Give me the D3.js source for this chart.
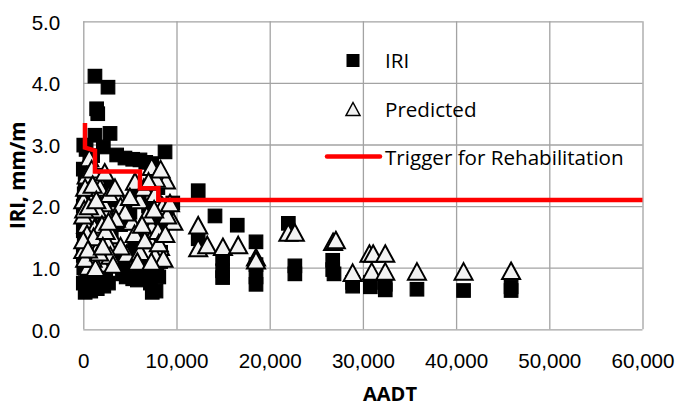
<!DOCTYPE html>
<html>
<head>
<meta charset="utf-8">
<script src="https://cdn.jsdelivr.net/npm/d3@7"></script>
<style>
    body { margin: 0; background: #fff; }
    svg { font-family: "Open Sans", sans-serif; }
    .grid line { stroke: #a3a3a3; stroke-width: 1.3; }
    .grid .domain { display: none; }
    .grid text { font-size: 20.6px; fill: #000; }
</style>
</head>
<body>
<div id="chart"></div>
<script>
// IRI measured (black squares)
var iriAadt = [
    1250, 2650, 1430, 1550, 1250, 2870, 50, 2150, 300, 3580, 4470, 6080, 5300, 8770, 7340, 6700, 1000, 700,
    0, 200, 100, 0, 150, 0, 100, 0, 50, 1800, 2500, 3300, 2000, 4000, 3000, 5000, 6000, 7000, 8000, 7600,
    8500, 9000, 9600, 6500, 5500, 8300, 4300, 2600, 1200,
    200, 800, 1500, 2200, 2700, 400, 1800, 1100, 2400, 4200, 4600, 5300, 5800, 6000, 7400, 7800, 7200,
    8100, 7500, 7900, 8300, 6800, 0, 600, 1300,
    12330, 12330, 14130, 16520, 18530, 14950, 14950, 14950, 18530, 18530, 18530, 22000, 22700, 22700,
    26760, 26760, 26900, 28900, 28900, 30800, 30800, 32400, 32400, 35800, 40800, 45900, 45900
];
var iriValues = [
    4.11, 3.93, 3.58, 3.50, 3.15, 3.18, 2.99, 2.96, 2.92, 2.83, 2.78, 2.75, 2.76, 2.88, 2.69, 2.71, 2.82, 2.70,
    2.60, 2.40, 2.20, 2.00, 1.80, 1.60, 1.40, 1.20, 1.00, 2.50, 2.30, 2.10, 1.90, 1.70, 1.50, 1.90, 2.20, 2.00, 2.30, 1.80,
    1.60, 1.90, 2.05, 1.50, 1.30, 1.25, 1.10, 1.20, 1.30,
    0.60, 0.62, 0.66, 0.70, 0.75, 0.80, 0.85, 0.95, 0.90, 0.90, 0.85, 0.82, 0.80, 0.95, 0.60, 0.62, 0.75,
    0.85, 0.95, 1.05, 1.10, 1.00, 0.75, 0.90, 0.75,
    2.25, 1.47, 1.84, 1.69, 1.42, 1.15, 0.95, 0.84, 1.05, 0.85, 0.73, 1.72, 1.03, 0.90,
    1.12, 0.97, 0.90, 0.76, 0.70, 0.76, 0.69, 0.73, 0.64, 0.65, 0.63, 0.69, 0.63
];

// predicted IRI (triangles)
var predAadt = [
    640, 360, 1430, 7340, 8870, 5550, 3580, 0, 1250, 720, 2510, 5190, 7340, 9660, 720, 3050, 7160, 8230,
    540, 1970, 4660, 6080, 0, 1610, 200, 900, 1800, 2200, 2800, 4000, 4500, 6000, 6500, 7700, 8500, 9000,
    1500, 300, 1200, 2000, 3500, 6800, 8000, 400, 2600, 4000, 5500, 6600, 7700, 8600, 1000, 2900, 200,
    1300, 3200, 5800, 7300, 0, 1000, 2300, 7800, 8300,
    100, 600, 1100, 1700, 2400, 0, 500, 1400, 2100, 2700, 3400, 5000, 6300, 7000, 7600, 8100, 8800, 9300,
    12330, 12330, 13300, 14980, 16620, 18530, 18530, 22000, 22700, 26800, 27100, 28900, 30700, 31100,
    32400, 30950, 32400, 35800, 40800, 45900
];
var predValues = [
    2.78, 2.50, 2.48, 2.64, 2.42, 2.40, 2.21, 2.10, 2.18, 1.83, 1.88, 1.75, 1.67, 1.75, 1.45, 1.53, 1.45, 1.34,
    1.02, 1.07, 1.23, 1.26, 1.29, 1.34, 2.30, 2.60, 2.30, 2.05, 2.20, 2.00, 1.90, 2.10, 2.30, 2.20, 2.00, 1.85,
    1.95, 1.70, 1.65, 1.70, 1.80, 1.85, 1.60, 1.55, 1.40, 1.35, 1.55, 1.45, 1.20, 1.15, 1.15, 1.20, 1.15,
    1.00, 1.05, 1.10, 1.10, 1.85, 2.35, 2.55, 2.45, 2.60,
    1.95, 2.00, 1.50, 1.25, 1.60, 1.45, 1.30, 2.10, 1.35, 1.75, 2.30, 2.15, 1.70, 2.40, 1.95, 1.40, 1.55, 2.05,
    1.69, 1.32, 1.37, 1.34, 1.37, 1.17, 1.12, 1.57, 1.57, 1.42, 1.45, 0.92, 1.23, 1.23,
    1.23, 0.94, 0.94, 0.94, 0.94, 0.95
];

// rehabilitation trigger (step line)
var triggerAadt = [180, 180, 1250, 1250, 6080, 6080, 8050, 8050, 60000];
var triggerValues = [3.35, 2.95, 2.90, 2.56, 2.56, 2.29, 2.29, 2.10, 2.10];

var xTicks = [0, 10000, 20000, 30000, 40000, 50000, 60000];
var yTicks = [0, 1, 2, 3, 4, 5];

function drawChart() {
    var width = 678,
        height = 406,
        left = 83.3,
        right = 642.5,
        top = 21.3,
        bottom = 329.3;

    var svg = d3.select("#chart")
                .append("svg")
                .attr("width", width)
                .attr("height", height);

    var x = d3.scaleLinear().domain([0, 60000]).range([left, right]);
    var y = d3.scaleLinear().domain([0, 5]).range([bottom, top]);

    // gridlines + tick labels
    svg.append("g")
        .attr("class", "grid")
        .attr("transform", "translate(0," + bottom + ")")
        .call(d3.axisBottom(x)
            .tickValues(xTicks)
            .tickSize(-(bottom - top))
            .tickPadding(24)
            .tickFormat(d3.format(",")));

    svg.append("g")
        .attr("class", "grid")
        .attr("transform", "translate(" + left + ",0)")
        .call(d3.axisLeft(y)
            .tickValues(yTicks)
            .tickSize(-(right - left))
            .tickPadding(23)
            .tickFormat(d3.format(".1f")))
        .selectAll("text")
        .attr("dy", "0.38em");

    // IRI squares
    var sq = 13.5;
    svg.append("g")
        .selectAll("rect")
        .data(iriAadt)
        .enter()
        .append("rect")
        .attr("x", function(d) { return x(d) - sq / 2; })
        .attr("y", function(d, i) { return y(iriValues[i]) - sq / 2; })
        .attr("width", sq)
        .attr("height", sq)
        .attr("fill", "#000")
        .attr("stroke", "#000")
        .attr("stroke-width", 1.2);

    // predicted triangles
    var tw = 18, th = 16.5;
    var triPath = "M0," + (-th / 2) + "L" + (tw / 2) + "," + (th / 2) + "L" + (-tw / 2) + "," + (th / 2) + "Z";
    svg.append("g")
        .selectAll("path")
        .data(predAadt)
        .enter()
        .append("path")
        .attr("d", triPath)
        .attr("transform", function(d, i) {
            return "translate(" + x(d) + "," + y(predValues[i]) + ")";
        })
        .attr("fill", "#f2f2f2")
        .attr("stroke", "#000")
        .attr("stroke-width", 2)
        .attr("stroke-linejoin", "miter");

    // trigger line
    var line = d3.line()
        .x(function(d) { return x(d); })
        .y(function(d, i) { return y(triggerValues[i]); });

    svg.append("path")
        .datum(triggerAadt)
        .attr("d", line)
        .attr("fill", "none")
        .attr("stroke", "#ff0000")
        .attr("stroke-width", 4.5);

    // legend
    var legend = svg.append("g").attr("font-size", "20.6px");

    legend.append("rect")
        .attr("x", 346.5).attr("y", 54)
        .attr("width", 13).attr("height", 13)
        .attr("fill", "#000");
    legend.append("text").attr("x", 385).attr("y", 68).text("IRI");

    legend.append("path")
        .attr("d", "M0,-6.5L7,6.5L-7,6.5Z")
        .attr("transform", "translate(353,109)")
        .attr("fill", "#f2f2f2")
        .attr("stroke", "#000")
        .attr("stroke-width", 1.5);
    legend.append("text").attr("x", 385).attr("y", 117).text("Predicted");

    legend.append("line")
        .attr("x1", 327).attr("x2", 380)
        .attr("y1", 156.5).attr("y2", 156.5)
        .attr("stroke", "#ff0000")
        .attr("stroke-width", 4.5)
        .attr("stroke-linecap", "round");
    legend.append("text").attr("x", 385).attr("y", 165).text("Trigger for Rehabilitation");

    // axis titles
    svg.append("text")
        .attr("x", 390).attr("y", 401)
        .attr("text-anchor", "middle")
        .attr("font-size", "20px")
        .attr("font-weight", "bold")
        .text("AADT");

    svg.append("text")
        .attr("transform", "translate(25," + ((top + bottom) / 2) + ") rotate(-90)")
        .attr("text-anchor", "middle")
        .attr("font-size", "20.6px")
        .attr("font-weight", "bold")
        .text("IRI, mm/m");
}

drawChart();
</script>
</body>
</html>
